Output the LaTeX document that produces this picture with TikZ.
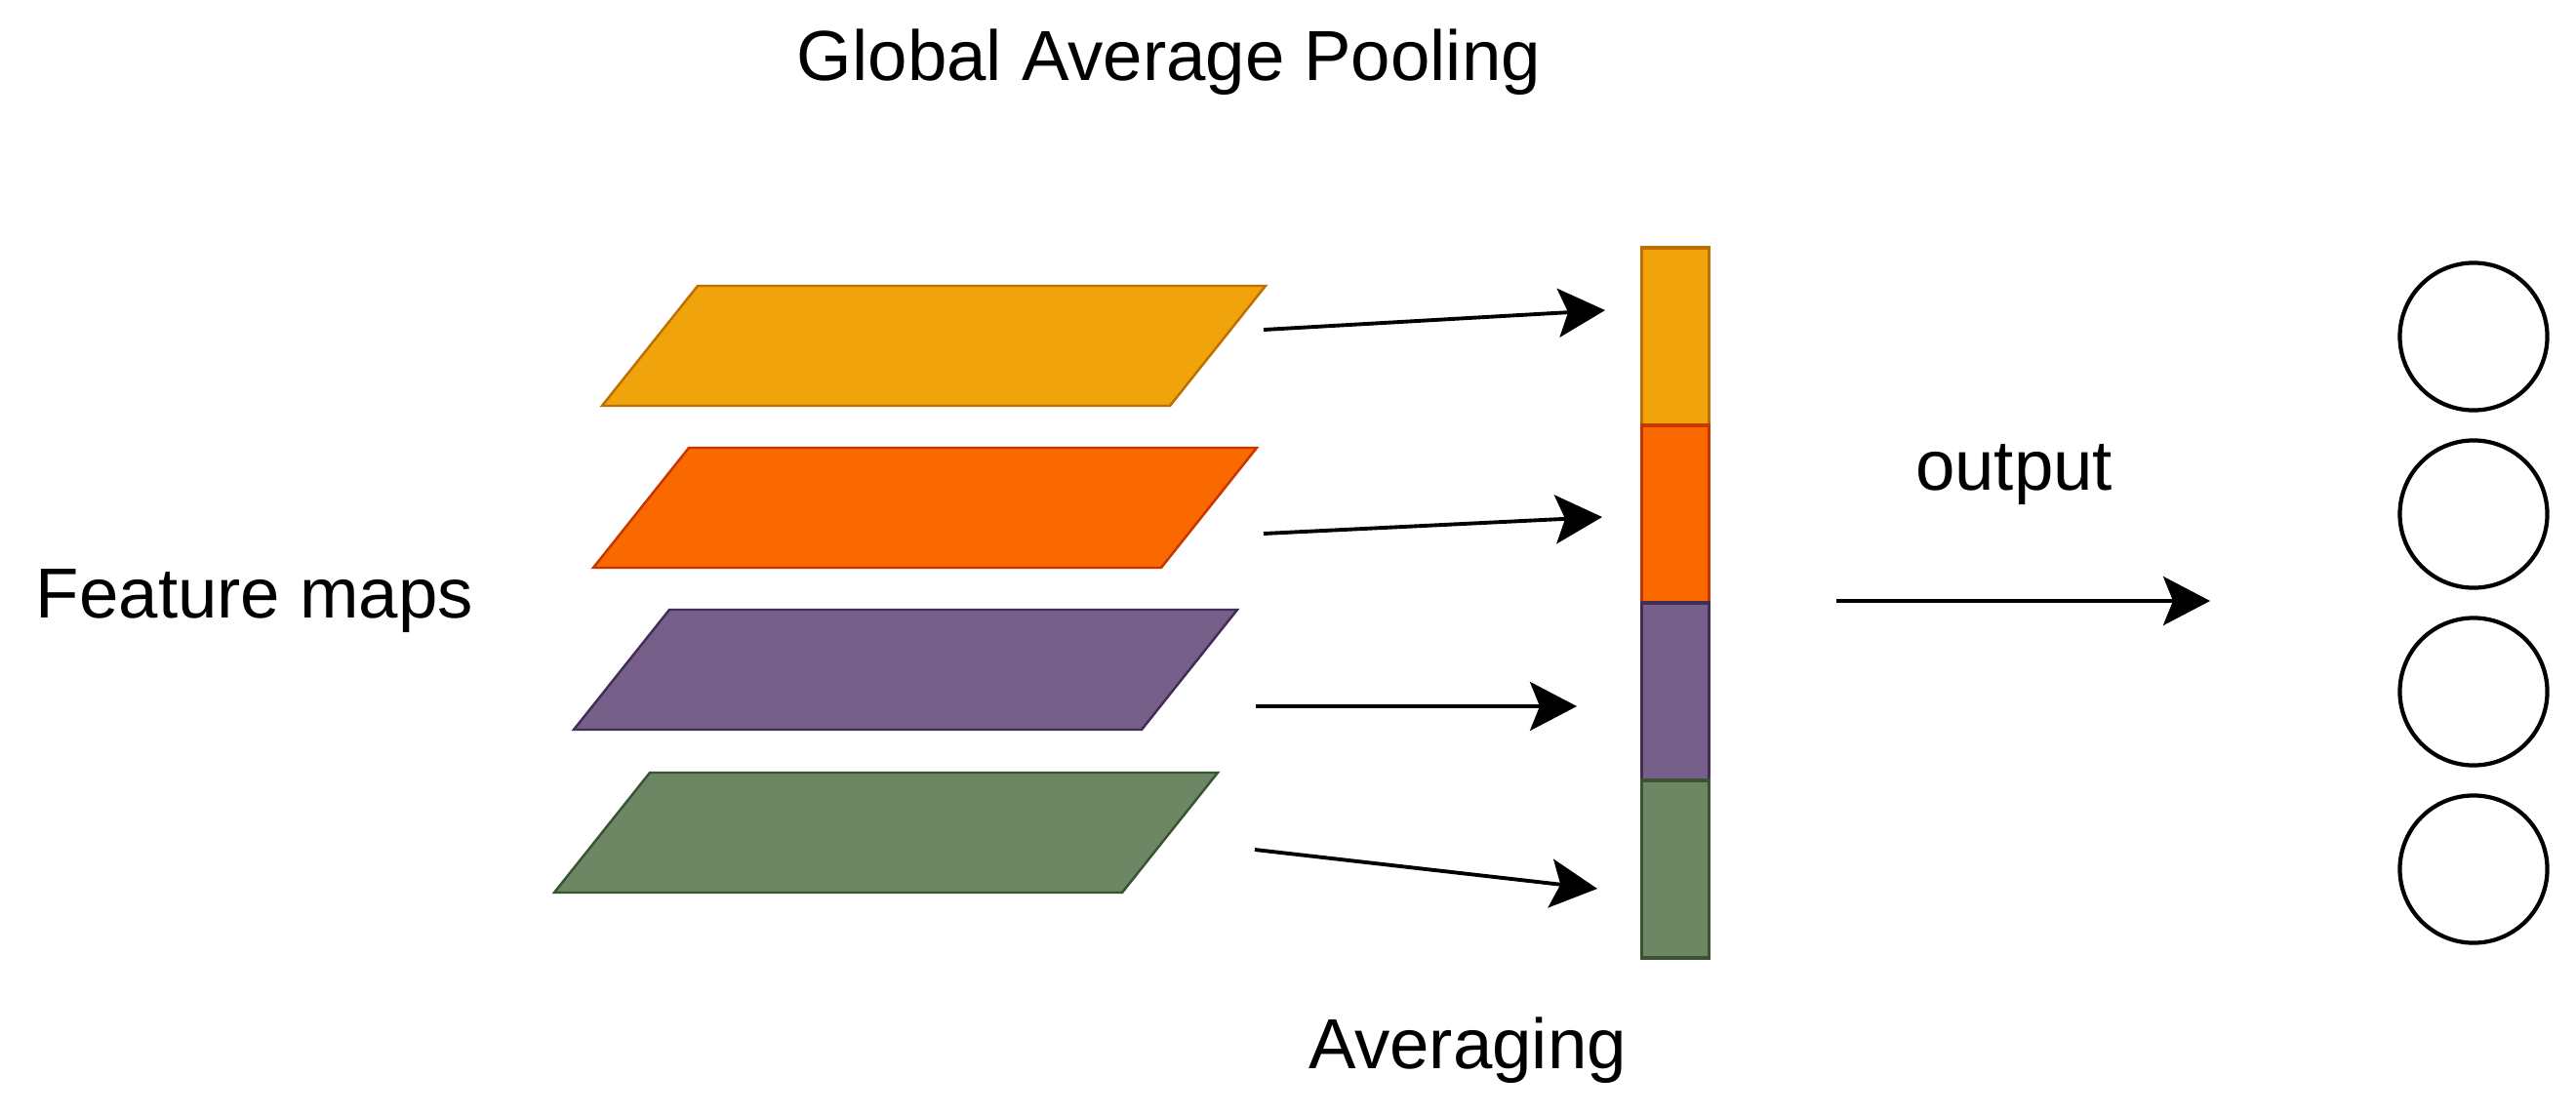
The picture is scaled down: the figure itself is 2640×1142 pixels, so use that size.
\documentclass[tikz,border=0pt]{standalone}
\usepackage{fontspec}
\setmainfont{Liberation Sans}
\usetikzlibrary{arrows.meta}
\definecolor{yfill}{HTML}{F0A30A}\definecolor{ydraw}{HTML}{BD7000}
\definecolor{ofill}{HTML}{FA6800}\definecolor{odraw}{HTML}{C73500}
\definecolor{pfill}{HTML}{76608A}\definecolor{pdraw}{HTML}{432D57}
\definecolor{gfill}{HTML}{6D8764}\definecolor{gdraw}{HTML}{3A5431}
\begin{document}
\begin{tikzpicture}[x=0.01cm,y=-0.01cm,
  lbl/.style={font=\fontsize{20.66}{24}\selectfont, inner sep=0pt, anchor=base},
  arr/.style={line width=1.1pt, -{Stealth[length=0.48cm,width=0.5cm,inset=0.1cm]}},
  fmap/.style={line width=0.7pt},
  cell/.style={rectangle, draw, minimum width=0.69cm, minimum height=1.82cm, inner sep=0pt, line width=1pt},
  neuron/.style={circle, draw, line width=1.2pt, minimum size=1.51cm, inner sep=0pt}]
\path[use as bounding box] (0,0) rectangle (2640,1142);

% texts
\node[lbl] (title) at (1198,82) {Global Average Pooling};
\node[lbl] (fm) at (261,633) {Feature maps};
\node[lbl] (out) at (2064,502) {output};
\node[lbl] (avg) at (1504,1095) {Averaging};

% feature maps
\filldraw[fmap, fill=yfill, draw=ydraw] (715,293) -- (1297,293) -- (1199,416) -- (617,416) -- cycle;
\filldraw[fmap, fill=ofill, draw=odraw] (706,459) -- (1288,459) -- (1190,582) -- (608,582) -- cycle;
\filldraw[fmap, fill=pfill, draw=pdraw] (686,625) -- (1268,625) -- (1170,748) -- (588,748) -- cycle;
\filldraw[fmap, fill=gfill, draw=gdraw] (666,792) -- (1248,792) -- (1150,915) -- (568,915) -- cycle;

% averaged vector
\node[cell, fill=yfill, draw=ydraw] (c1) at (1717,345) {};
\node[cell, fill=ofill, draw=odraw] (c2) at (1717,527) {};
\node[cell, fill=pfill, draw=pdraw] (c3) at (1717,709) {};
\node[cell, fill=gfill, draw=gdraw] (c4) at (1717,891) {};

% output neurons
\node[neuron] (n1) at (2535,345) {};
\node[neuron] (n2) at (2535,527) {};
\node[neuron] (n3) at (2535,709) {};
\node[neuron] (n4) at (2535,891) {};

% arrow end points
\coordinate (s1) at (1295,338); \coordinate (e1) at (1645,318);
\coordinate (s2) at (1295,547); \coordinate (e2) at (1642,530);
\coordinate (s3) at (1287,724); \coordinate (e3) at (1616,724);
\coordinate (s4) at (1286,871); \coordinate (e4) at (1637,911);
\coordinate (so) at (1882,616); \coordinate (eo) at (2265,616);

\draw[arr] (s1) -- (e1);
\draw[arr] (s2) -- (e2);
\draw[arr] (s3) -- (e3);
\draw[arr] (s4) -- (e4);
\draw[arr] (so) -- (eo);
\end{tikzpicture}
\end{document}
